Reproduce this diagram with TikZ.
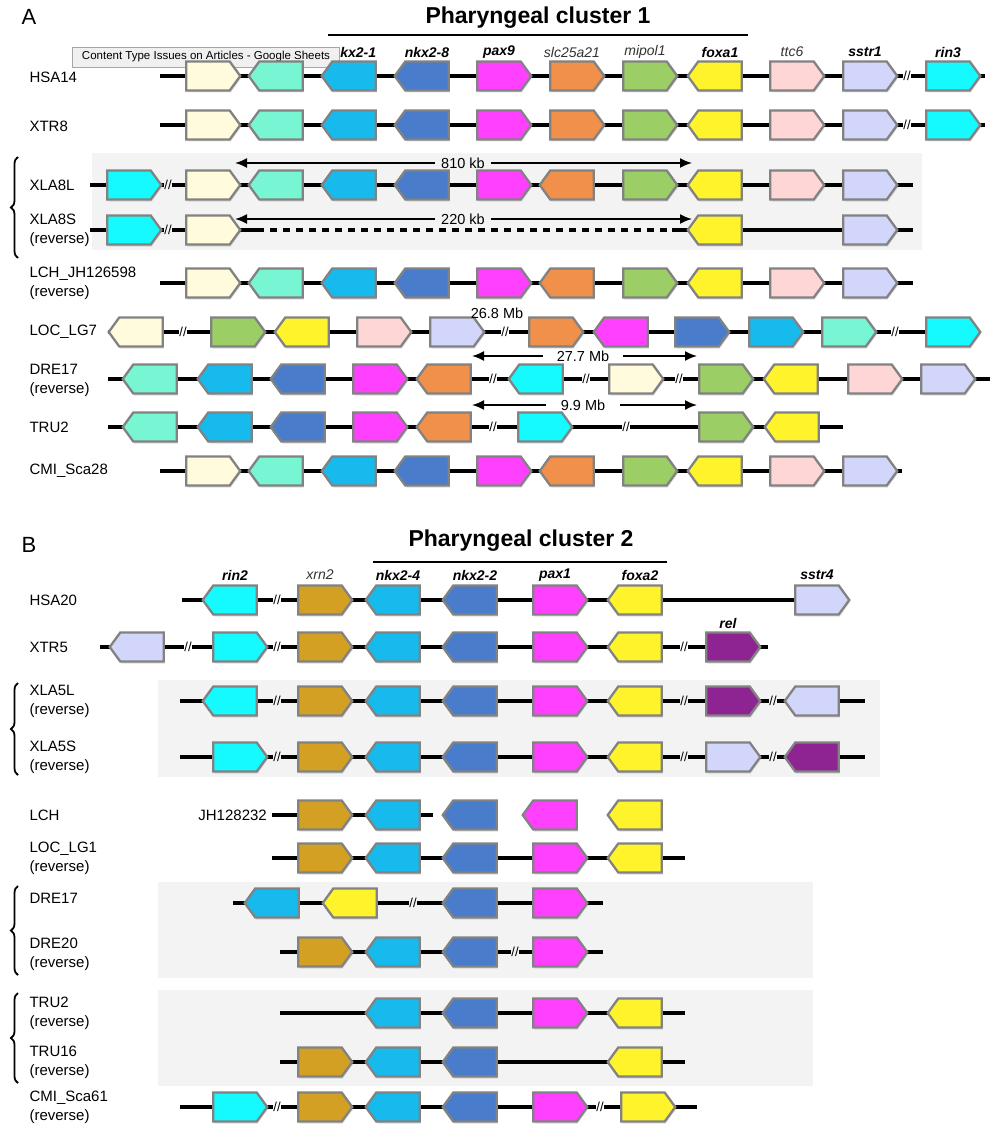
\documentclass[tikz,border=0pt]{standalone}
\usepackage{fontspec}
\setmainfont{Liberation Sans}
\usetikzlibrary{shapes.symbols,shadows,arrows.meta,decorations.pathreplacing}

\definecolor{gcream}{RGB}{255,251,220}
\definecolor{gteal}{RGB}{120,246,212}
\definecolor{gblue}{RGB}{22,186,236}
\definecolor{gdblue}{RGB}{74,124,204}
\definecolor{gmag}{RGB}{255,64,255}
\definecolor{gorange}{RGB}{240,144,74}
\definecolor{ggreen}{RGB}{155,206,100}
\definecolor{gyellow}{RGB}{255,244,44}
\definecolor{gpink}{RGB}{255,214,214}
\definecolor{glav}{RGB}{210,214,250}
\definecolor{gcyan}{RGB}{20,250,255}
\definecolor{ggold}{RGB}{212,160,36}
\definecolor{gpurple}{RGB}{142,36,146}
\definecolor{bggray}{RGB}{243,243,243}
\definecolor{edgegray}{RGB}{130,130,130}

\tikzset{
  gene/.style={signal, draw=edgegray, line width=2.3pt, fill=#1, minimum width=54pt,
    minimum height=29pt, inner sep=0pt, signal pointer angle=108,
    drop shadow={opacity=0.25, shadow xshift=1pt, shadow yshift=-2pt}},
  pe/.style={signal to=east},
  pw/.style={signal to=west},
  chrom/.style={line width=3.6pt},
  brk/.style={fill=#1, inner sep=0.8pt, font=\fontsize{13}{13}\selectfont},
  brk/.default=white,
  row/.style={anchor=west, align=left, font=\fontsize{15}{19}\selectfont},
  glab/.style={font=\fontsize{14}{16}\selectfont\bfseries\itshape},
  glabi/.style={font=\fontsize{14}{16}\selectfont\itshape, text=black!80},
  title/.style={font=\fontsize{23}{26}\selectfont\bfseries},
  dist/.style={font=\fontsize{14.5}{16}\selectfont, inner ysep=0pt},
  kbarrow/.style={-{Latex[length=12pt,width=10pt]}, line width=1.8pt},
  grp/.style={fill=bggray, draw=none},
  brace/.style={decorate, decoration={brace, amplitude=7pt}, line width=1.8pt}
}

\begin{document}
\begin{tikzpicture}[x=1pt, y=-1pt]
\useasboundingbox (0,0) rectangle (999,1134);
\fill[white] (0,0) rectangle (999,1134);

% ---------- panel A ----------
\node[font=\fontsize{22}{24}\selectfont] (pA) at (29,17) {A};
\node[title] (tA) at (538,18) {Pharyngeal cluster 1};
\coordinate (clA1) at (328,35); \coordinate (clA2) at (748,35);
\draw[line width=2.5pt] (clA1) -- (clA2);

\foreach \x/\st/\txt [count=\i] in {354/glab/nkx2-1, 427/glab/nkx2-8, 499/glab/pax9,
  572/glabi/slc25a21, 645/glabi/mipol1, 720/glab/foxa1, 792/glabi/ttc6,
  865/glab/sstr1, 948/glab/rin3}
  \node[\st] (ta\i) at (\x,52) {\txt};

\node[draw=black!35, fill=black!6, font=\fontsize{11.5}{12}\selectfont, minimum width=267pt,
  minimum height=20pt, inner sep=0pt] (tip) at (206,57) {Content Type Issues on Articles - Google Sheets};

% groups
\fill[grp] (92,153) rectangle (922,250);
\coordinate (brA1) at (18,258); \coordinate (brA2) at (18,157);
\draw[brace] (brA1) -- (brA2);

% row lines
\coordinate (hsaS) at (160,76);  \coordinate (hsaE) at (985,76);
\coordinate (xtrS) at (160,125); \coordinate (xtrE) at (985,125);
\coordinate (xllS) at (90,185);  \coordinate (xllE) at (913,185);
\coordinate (xlsS) at (90,230);  \coordinate (xlsE) at (913,230);
\coordinate (xlsD1) at (257,230); \coordinate (xlsD2) at (672,230);
\coordinate (lchS) at (160,283); \coordinate (lchE) at (913,283);
\coordinate (locS) at (108,332); \coordinate (locE) at (980,332);
\coordinate (draS) at (108,379); \coordinate (draE) at (990,379);
\coordinate (traS) at (108,427); \coordinate (traE) at (843,427);
\coordinate (cmiS) at (160,471); \coordinate (cmiE) at (902,471);
\draw[chrom] (hsaS) -- (hsaE);
\draw[chrom] (xtrS) -- (xtrE);
\draw[chrom] (xllS) -- (xllE);
\draw[chrom] (xlsS) -- (xlsD1);
\draw[chrom, dash pattern=on 7pt off 6pt] (xlsD1) -- (xlsD2);
\draw[chrom] (xlsD2) -- (xlsE);
\draw[chrom] (lchS) -- (lchE);
\draw[chrom] (locS) -- (locE);
\draw[chrom] (draS) -- (draE);
\draw[chrom] (traS) -- (traE);
\draw[chrom] (cmiS) -- (cmiE);

% genes
\foreach \x/\col/\dir [count=\i] in {208/gcream/pe, 281/gteal/pw, 354/gblue/pw, 427/gdblue/pw,
  499/gmag/pe, 572/gorange/pe, 645/ggreen/pe, 720/gyellow/pw, 792/gpink/pe, 865/glav/pe, 948/gcyan/pe}
{
  \node[gene=\col, \dir] (hsa\i) at (\x,76) {};
  \node[gene=\col, \dir] (xtr\i) at (\x,125) {};
}
\node[brk] (hsab) at (907,76) {//};
\node[brk] (xtrb) at (907,125) {//};

\foreach \x/\col/\dir [count=\i] in {129/gcyan/pe, 208/gcream/pe, 281/gteal/pw, 354/gblue/pw,
  427/gdblue/pw, 499/gmag/pe, 572/gorange/pw, 645/ggreen/pe, 720/gyellow/pw, 792/gpink/pe, 865/glav/pe}
  \node[gene=\col, \dir] (xll\i) at (\x,185) {};
\node[brk=bggray] (xllb) at (168,185) {//};

\foreach \x/\col/\dir [count=\i] in {129/gcyan/pe, 208/gcream/pe, 720/gyellow/pw, 865/glav/pe}
  \node[gene=\col, \dir] (xls\i) at (\x,230) {};
\node[brk=bggray] (xlsb) at (168,230) {//};

\foreach \x/\col/\dir [count=\i] in {208/gcream/pe, 281/gteal/pw, 354/gblue/pw, 427/gdblue/pw,
  499/gmag/pe, 572/gorange/pw, 645/ggreen/pe, 720/gyellow/pw, 792/gpink/pe, 865/glav/pe}
{
  \node[gene=\col, \dir] (lch\i) at (\x,283) {};
  \node[gene=\col, \dir] (cmi\i) at (\x,471) {};
}

\foreach \x/\col/\dir [count=\i] in {141/gcream/pw, 233/ggreen/pe, 307/gyellow/pw, 379/gpink/pe,
  452/glav/pe, 551/gorange/pe, 626/gmag/pw, 697/gdblue/pe, 771/gblue/pe, 844/gteal/pe, 948/gcyan/pe}
  \node[gene=\col, \dir] (loc\i) at (\x,332) {};
\node[brk] (locb1) at (183,332) {//};
\node[brk] (locb2) at (505,332) {//};
\node[brk] (locb3) at (895,332) {//};

\foreach \x/\col/\dir [count=\i] in {155/gteal/pw, 230/gblue/pw, 303/gdblue/pw, 375/gmag/pe,
  449/gorange/pw, 541/gcyan/pw, 631/gcream/pe, 721/ggreen/pe, 796/gyellow/pw, 870/gpink/pe, 943/glav/pe}
  \node[gene=\col, \dir] (dra\i) at (\x,379) {};
\node[brk] (drab1) at (493,379) {//};
\node[brk] (drab2) at (586,379) {//};
\node[brk] (drab3) at (679,379) {//};

\foreach \x/\col/\dir [count=\i] in {155/gteal/pw, 230/gblue/pw, 303/gdblue/pw, 375/gmag/pe,
  449/gorange/pw, 540/gcyan/pe, 721/ggreen/pe, 797/gyellow/pw}
  \node[gene=\col, \dir] (tra\i) at (\x,427) {};
\node[brk] (trab1) at (493,427) {//};
\node[brk] (trab2) at (626,427) {//};

% distances
\node[dist, fill=bggray, inner xsep=6pt] (kbA) at (463,163) {810 kb};
\node[dist, fill=bggray, inner xsep=6pt] (kbB) at (463,219) {220 kb};
\coordinate (kbAl) at (235,163); \coordinate (kbAr) at (692,163);
\coordinate (kbBl) at (235,219); \coordinate (kbBr) at (692,219);
\draw[kbarrow] (kbA.west) -- (kbAl);
\draw[kbarrow] (kbA.east) -- (kbAr);
\draw[kbarrow] (kbB.west) -- (kbBl);
\draw[kbarrow] (kbB.east) -- (kbBr);
\node[dist] (mbA) at (497,313) {26.8 Mb};
\node[dist, inner xsep=14pt] (mbB) at (583,356) {27.7 Mb};
\node[dist, inner xsep=15pt] (mbC) at (583,405) {9.9 Mb};
\coordinate (mbBl) at (472,356); \coordinate (mbBr) at (697,356);
\coordinate (mbCl) at (472,405); \coordinate (mbCr) at (697,405);
\draw[kbarrow] (mbB.west) -- (mbBl);
\draw[kbarrow] (mbB.east) -- (mbBr);
\draw[kbarrow] (mbC.west) -- (mbCl);
\draw[kbarrow] (mbC.east) -- (mbCr);

% row labels
\node[row] (lhsa) at (26,77) {HSA14};
\node[row] (lxtr) at (26,126) {XTR8};
\node[row] (lxll) at (26,185) {XLA8L};
\node[row] (lxls) at (26,230) {XLA8S\\(reverse)};
\node[row] (llch) at (26,283) {LCH\_JH126598\\(reverse)};
\node[row] (lloc) at (26,332) {LOC\_LG7};
\node[row] (ldra) at (26,380) {DRE17\\(reverse)};
\node[row] (ltra) at (26,427) {TRU2};
\node[row] (lcmi) at (26,471) {CMI\_Sca28};

% ---------- panel B ----------
\node[font=\fontsize{22}{24}\selectfont] (pB) at (29,545) {B};
\node[title] (tB) at (521,541) {Pharyngeal cluster 2};
\coordinate (clB1) at (373,562); \coordinate (clB2) at (667,562);
\draw[line width=2.5pt] (clB1) -- (clB2);

\foreach \x/\st/\txt [count=\i] in {235/glab/rin2, 320/glabi/xrn2, 398/glab/nkx2-4,
  475/glab/nkx2-2, 555/glab/pax1, 640/glab/foxa2, 817/glab/sstr4}
  \node[\st] (tb\i) at (\x,575) {\txt};
\node[glab] (trel) at (728,623) {rel};

% groups
\fill[grp] (158,680) rectangle (880,777);
\fill[grp] (158,882) rectangle (813,978);
\fill[grp] (158,990) rectangle (813,1086);
\coordinate (brB1) at (18,775);  \coordinate (brB2) at (18,683);
\coordinate (brC1) at (18,975);  \coordinate (brC2) at (18,886);
\coordinate (brD1) at (18,1083); \coordinate (brD2) at (18,993);
\draw[brace] (brB1) -- (brB2);
\draw[brace] (brC1) -- (brC2);
\draw[brace] (brD1) -- (brD2);

% row lines
\coordinate (hsbS) at (182,600); \coordinate (hsbE) at (800,600);
\coordinate (xtbS) at (100,647); \coordinate (xtbE) at (768,647);
\coordinate (xblS) at (180,701); \coordinate (xblE) at (865,701);
\coordinate (xbsS) at (180,757); \coordinate (xbsE) at (865,757);
\coordinate (lcbS) at (272,815); \coordinate (lcbE) at (433,815);
\coordinate (lobS) at (272,858); \coordinate (lobE) at (685,858);
\coordinate (dr1S) at (233,903); \coordinate (dr1E) at (603,903);
\coordinate (dr2S) at (280,952); \coordinate (dr2E) at (603,952);
\coordinate (tr1S) at (280,1013); \coordinate (tr1E) at (685,1013);
\coordinate (tr2S) at (280,1062); \coordinate (tr2E) at (685,1062);
\coordinate (cmbS) at (180,1107); \coordinate (cmbE) at (697,1107);
\foreach \r in {hsb,xtb,xbl,xbs,lcb,lob,dr1,dr2,tr1,tr2,cmb}
  \draw[chrom] (\r S) -- (\r E);

% genes
\foreach \x/\col/\dir [count=\i] in {235/gcyan/pw, 320/ggold/pe, 398/gblue/pw, 475/gdblue/pw,
  555/gmag/pe, 640/gyellow/pw, 817/glav/pe}
  \node[gene=\col, \dir] (hsb\i) at (\x,600) {};
\node[brk] (hsbb) at (277,600) {//};

\foreach \x/\col/\dir [count=\i] in {142/glav/pw, 235/gcyan/pe, 320/ggold/pe, 398/gblue/pw,
  475/gdblue/pw, 555/gmag/pe, 640/gyellow/pw, 728/gpurple/pe}
  \node[gene=\col, \dir] (xtb\i) at (\x,647) {};
\node[brk] (xtbb1) at (188,647) {//};
\node[brk] (xtbb2) at (277,647) {//};
\node[brk] (xtbb3) at (684,647) {//};

\foreach \x/\col/\dir [count=\i] in {235/gcyan/pw, 320/ggold/pe, 398/gblue/pw, 475/gdblue/pw,
  555/gmag/pe, 640/gyellow/pw, 728/gpurple/pe, 817/glav/pw}
  \node[gene=\col, \dir] (xbl\i) at (\x,701) {};
\foreach \x/\col/\dir [count=\i] in {235/gcyan/pe, 320/ggold/pe, 398/gblue/pw, 475/gdblue/pw,
  555/gmag/pe, 640/gyellow/pw, 728/glav/pe, 817/gpurple/pw}
  \node[gene=\col, \dir] (xbs\i) at (\x,757) {};
\foreach \x [count=\i] in {277,684,773}
{
  \node[brk=bggray] (xblb\i) at (\x,701) {//};
  \node[brk=bggray] (xbsb\i) at (\x,757) {//};
}

\foreach \x/\col/\dir [count=\i] in {320/ggold/pe, 398/gblue/pw, 475/gdblue/pw, 555/gmag/pw, 640/gyellow/pw}
  \node[gene=\col, \dir] (lcb\i) at (\x,815) {};
\node[anchor=east, font=\fontsize{15}{17}\selectfont, inner sep=0pt] (jh) at (267,815) {JH128232};

\foreach \x/\col/\dir [count=\i] in {320/ggold/pe, 398/gblue/pw, 475/gdblue/pw, 555/gmag/pe, 640/gyellow/pw}
  \node[gene=\col, \dir] (lob\i) at (\x,858) {};

\foreach \x/\col/\dir [count=\i] in {277/gblue/pw, 355/gyellow/pw, 475/gdblue/pw, 555/gmag/pe}
  \node[gene=\col, \dir] (dr1\i) at (\x,903) {};
\node[brk=bggray] (dr1b) at (413,903) {//};
\foreach \x/\col/\dir [count=\i] in {320/ggold/pe, 398/gblue/pw, 475/gdblue/pw, 555/gmag/pe}
  \node[gene=\col, \dir] (dr2\i) at (\x,952) {};
\node[brk=bggray] (dr2b) at (515,952) {//};

\foreach \x/\col/\dir [count=\i] in {398/gblue/pw, 475/gdblue/pw, 555/gmag/pe, 640/gyellow/pw}
  \node[gene=\col, \dir] (tr1\i) at (\x,1013) {};
\foreach \x/\col/\dir [count=\i] in {320/ggold/pe, 398/gblue/pw, 475/gdblue/pw, 640/gyellow/pw}
  \node[gene=\col, \dir] (tr2\i) at (\x,1062) {};

\foreach \x/\col/\dir [count=\i] in {235/gcyan/pe, 320/ggold/pe, 398/gblue/pw, 475/gdblue/pw,
  555/gmag/pe, 643/gyellow/pe}
  \node[gene=\col, \dir] (cmb\i) at (\x,1107) {};
\node[brk] (cmbb1) at (277,1107) {//};
\node[brk] (cmbb2) at (600,1107) {//};

% row labels
\node[row] (lhsb) at (26,600) {HSA20};
\node[row] (lxtb) at (26,647) {XTR5};
\node[row] (lxbl) at (26,701) {XLA5L\\(reverse)};
\node[row] (lxbs) at (26,757) {XLA5S\\(reverse)};
\node[row] (llcb) at (26,815) {LCH};
\node[row] (llob) at (26,858) {LOC\_LG1\\(reverse)};
\node[row] (ldr1) at (26,898) {DRE17};
\node[row] (ldr2) at (26,954) {DRE20\\(reverse)};
\node[row] (ltr1) at (26,1013) {TRU2\\(reverse)};
\node[row] (ltr2) at (26,1062) {TRU16\\(reverse)};
\node[row] (lcmb) at (26,1107) {CMI\_Sca61\\(reverse)};

\end{tikzpicture}
\end{document}
